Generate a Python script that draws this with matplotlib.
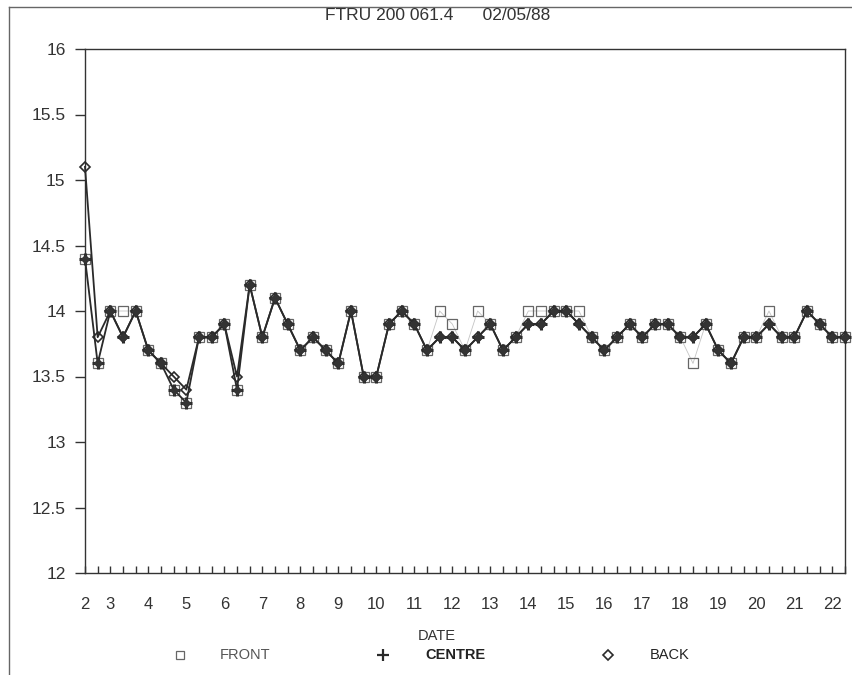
import matplotlib
matplotlib.use("Agg")
import matplotlib.pyplot as plt
from matplotlib.lines import Line2D

plt.rcParams['font.family'] = ['Liberation Sans', 'DejaVu Sans']

# sample index 0..60 (three readings per day)
front = [14.4, 13.6, 14.0, 14.0, 14.0, 13.7, 13.6, 13.4, 13.3, 13.8,
         13.8, 13.9, 13.4, 14.2, 13.8, 14.1, 13.9, 13.7, 13.8, 13.7,
         13.6, 14.0, 13.5, 13.5, 13.9, 14.0, 13.9, 13.7, 14.0, 13.9,
         13.7, 14.0, 13.9, 13.7, 13.8, 14.0, 14.0, 14.0, 14.0, 14.0,
         13.8, 13.7, 13.8, 13.9, 13.8, 13.9, 13.9, 13.8, 13.6, 13.9,
         13.7, 13.6, 13.8, 13.8, 14.0, 13.8, 13.8, 14.0, 13.9, 13.8, 13.8]
centre = [14.4, 13.6, 14.0, 13.8, 14.0, 13.7, 13.6, 13.4, 13.3, 13.8,
          13.8, 13.9, 13.4, 14.2, 13.8, 14.1, 13.9, 13.7, 13.8, 13.7,
          13.6, 14.0, 13.5, 13.5, 13.9, 14.0, 13.9, 13.7, 13.8, 13.8,
          13.7, 13.8, 13.9, 13.7, 13.8, 13.9, 13.9, 14.0, 14.0, 13.9,
          13.8, 13.7, 13.8, 13.9, 13.8, 13.9, 13.9, 13.8, 13.8, 13.9,
          13.7, 13.6, 13.8, 13.8, 13.9, 13.8, 13.8, 14.0, 13.9, 13.8, 13.8]
back = [15.1, 13.8, 14.0, 13.8, 14.0, 13.7, 13.6, 13.5, 13.4, 13.8,
        13.8, 13.9, 13.5, 14.2, 13.8, 14.1, 13.9, 13.7, 13.8, 13.7,
        13.6, 14.0, 13.5, 13.5, 13.9, 14.0, 13.9, 13.7, 13.8, 13.8,
        13.7, 13.8, 13.9, 13.7, 13.8, 13.9, 13.9, 14.0, 14.0, 13.9,
        13.8, 13.7, 13.8, 13.9, 13.8, 13.9, 13.9, 13.8, 13.8, 13.9,
        13.7, 13.6, 13.8, 13.8, 13.9, 13.8, 13.8, 14.0, 13.9, 13.8, 13.8]

date_labels = ['2', '3', '4', '5', '6', '7', '8', '9', '10', '11', '12',
               '13', '14', '15', '16', '17', '18', '19', '20', '21', '22']
date_label_pos = [0, 2, 5, 8, 11, 14, 17, 20, 23, 26, 29,
                  32, 35, 38, 41, 44, 47, 50, 53, 56, 59]
y_ticks = [12, 12.5, 13, 13.5, 14, 14.5, 15, 15.5, 16]
title = "FTRU 200 061.4      02/05/88"

fig = plt.figure(figsize=(8.52, 6.75), dpi=100)
ax = fig.add_axes([85/852, 1-573/675, 760/852, 524/675])

x = list(range(len(front)))
ink = '#2a2a2a'
ax.plot(x, front, color='#c4c4c4', lw=0.6, marker='s', ms=6.5, mfc='none',
        mec='#666666', mew=0.9, clip_on=False, zorder=2)
ax.plot(x, back, color=ink, lw=1.3, marker='D', ms=5.5, mfc='none',
        mec=ink, mew=1.2, clip_on=False, zorder=3)
ax.plot(x, centre, color=ink, lw=1.3, marker='+', ms=9, mew=2.2,
        mec=ink, clip_on=False, zorder=4)
ax.plot(x, centre, ls='none', marker='D', ms=5, mfc='#333333', mec='none',
        clip_on=False, zorder=4)

ax.set_xlim(0, 60)
ax.set_ylim(12, 16)
ax.set_yticks(y_ticks)
ax.set_yticklabels(['12', '12.5', '13', '13.5', '14', '14.5', '15', '15.5', '16'])
ax.set_xticks(date_label_pos)
ax.set_xticklabels(date_labels)
ax.set_xticks(x, minor=True)
ax.tick_params(axis='y', direction='out', length=7, width=1, pad=7,
               labelsize=12.5, colors='#333333')
ax.tick_params(axis='x', which='both', direction='in', length=5, width=1,
               pad=17, labelsize=12, colors='#333333')
for s in ax.spines.values():
    s.set_color('#333333')
    s.set_linewidth(1)

fig.text(438/852, 1-16/675, title, ha='center', va='center', fontsize=12.5,
         color='#333333')
fig.text(437/852, 1-636/675, 'DATE', ha='center', va='center', fontsize=10.5,
         color='#333333')

# legend row
ly = 1-655/675
fig.add_artist(Line2D([180/852], [ly], marker='s', ms=6, mfc='none',
                      mec='#666666', mew=0.9, ls='none'))
fig.text(220/852, ly, 'FRONT', ha='left', va='center', fontsize=10.5,
         color='#555555')
fig.add_artist(Line2D([383/852], [ly], marker='+', ms=8, mec=ink, mew=1.6,
                      ls='none'))
fig.text(425/852, ly, 'CENTRE', ha='left', va='center', fontsize=10.5,
         color='#222222', fontweight='bold')
fig.add_artist(Line2D([608/852], [ly], marker='D', ms=5, mfc='none',
                      mec=ink, mew=1.2, ls='none'))
fig.text(650/852, ly, 'BACK', ha='left', va='center', fontsize=10.5,
         color='#222222')

# page frame
fig.add_artist(Line2D([9/852, 9/852], [0, 1-7/675], color='#666666', lw=1))
fig.add_artist(Line2D([9/852, 1], [1-7/675, 1-7/675], color='#666666', lw=1))

fig.savefig('out.png', dpi=100)
